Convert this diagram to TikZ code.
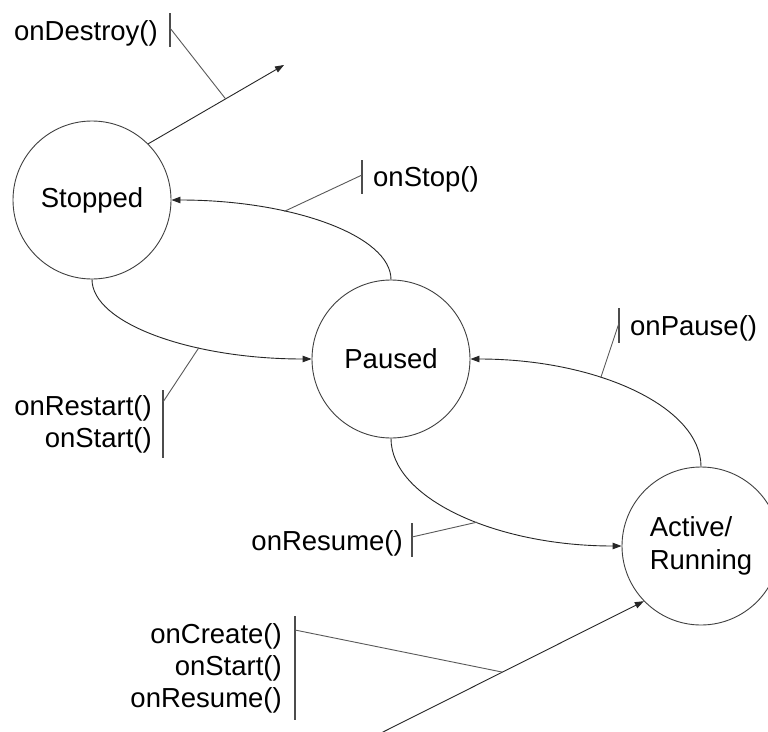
\documentclass[tikz,border=0pt]{standalone}
\usepackage{fontspec}
\setmainfont{Liberation Sans}
\usetikzlibrary{arrows.meta}
\begin{document}
\begin{tikzpicture}[x=1pt,y=-1pt,
  state/.style={circle,draw=black!75,line width=0.9pt,minimum size=158pt,
    inner sep=0pt,font=\fontsize{27.5}{33}\selectfont},
  flow/.style={draw=black!85,line width=0.9pt,-{Triangle[length=9pt,width=6.5pt]}},
  hook/.style={draw=black!65,line width=0.9pt},
  bar/.style={draw=black!70,line width=1.1pt},
  lbl/.style={inner sep=0pt,font=\fontsize{27.5}{33}\selectfont}]
\useasboundingbox (0,0) rectangle (768,731);
\clip (0,0) rectangle (768,731);
\fill[white] (0,0) rectangle (768,731);

% states
\node[state] (stopped) at (92,200) {Stopped};
\node[state] (paused) at (391,359) {Paused};
\node[state,align=left] (active) at (701,546) {Active/\\Running};

% free ends of the entry and exit arrows
\coordinate (gone) at (284,65);
\coordinate (launch) at (377,735);

% transitions
\draw[flow] (stopped.45) -- coordinate[pos=0.57] (destroyPt) (gone);
\draw[flow] (paused.north) .. controls (391,236) and (293,200) .. coordinate[pos=0.66] (stopPt) (stopped.east);
\draw[flow] (stopped.south) .. controls (92,323) and (190.5,359) .. coordinate[pos=0.66] (restartPt) (paused.west);
\draw[flow] (active.north) .. controls (701,407) and (597.6,359) .. coordinate[pos=0.62] (pausePt) (paused.east);
\draw[flow] (paused.south) .. controls (391,497.6) and (494.4,546) .. coordinate[pos=0.57] (resumePt) (active.west);
\draw[flow] (launch) -- coordinate[pos=0.47] (createPt) (active.224);

% onDestroy()
\node[lbl,anchor=base east] (destroyTxt) at (158,40) {onDestroy()};
\coordinate (destroyTop) at (170,13);
\coordinate (destroyBot) at (170,47);
\coordinate (destroyHook) at (170,28);
\draw[bar] (destroyTop) -- (destroyBot);
\draw[hook] (destroyPt) -- (destroyHook);

% onStop()
\node[lbl,anchor=base west] (stopTxt) at (373,186) {onStop()};
\coordinate (stopTop) at (362,160);
\coordinate (stopBot) at (362,194);
\coordinate (stopHook) at (362,175);
\draw[bar] (stopTop) -- (stopBot);
\draw[hook] (stopPt) -- (stopHook);

% onPause()
\node[lbl,anchor=base west] (pauseTxt) at (630,335) {onPause()};
\coordinate (pauseTop) at (619,308);
\coordinate (pauseBot) at (619,343);
\coordinate (pauseHook) at (619,323);
\draw[bar] (pauseTop) -- (pauseBot);
\draw[hook] (pausePt) -- (pauseHook);

% onRestart() / onStart()
\node[lbl,anchor=base east] (restartTxt) at (152,415) {onRestart()};
\node[lbl,anchor=base east] (restartTxtB) at (152,447) {onStart()};
\coordinate (restartTop) at (163,390);
\coordinate (restartBot) at (163,458);
\coordinate (restartHook) at (163,402);
\draw[bar] (restartTop) -- (restartBot);
\draw[hook] (restartPt) -- (restartHook);

% onResume()
\node[lbl,anchor=base east] (resumeTxt) at (403,550) {onResume()};
\coordinate (resumeTop) at (412,523);
\coordinate (resumeBot) at (412,557);
\coordinate (resumeHook) at (412,537);
\draw[bar] (resumeTop) -- (resumeBot);
\draw[hook] (resumePt) -- (resumeHook);

% onCreate() / onStart() / onResume()
\node[lbl,anchor=base east] (createTxt) at (282,643) {onCreate()};
\node[lbl,anchor=base east] (createTxtB) at (282,675) {onStart()};
\node[lbl,anchor=base east] (createTxtC) at (282,707) {onResume()};
\coordinate (createTop) at (295,616);
\coordinate (createBot) at (295,720);
\coordinate (createHook) at (295,630);
\draw[bar] (createTop) -- (createBot);
\draw[hook] (createPt) -- (createHook);
\end{tikzpicture}
\end{document}
